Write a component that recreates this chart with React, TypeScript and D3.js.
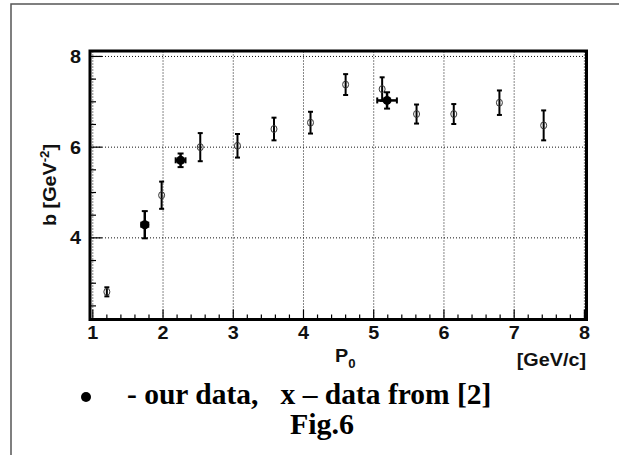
import React from 'react';
import * as d3 from 'd3';

// Slope parameter b versus beam momentum P0
const refMomentum = [1.2, 1.98, 2.53, 3.06, 3.58, 4.1, 4.6, 5.12, 5.61, 6.14, 6.79, 7.42];
const refSlope = [2.81, 4.94, 6.0, 6.03, 6.4, 6.54, 7.38, 7.28, 6.73, 6.73, 6.98, 6.48];
const refSlopeErr = [0.1, 0.3, 0.31, 0.26, 0.25, 0.24, 0.23, 0.26, 0.21, 0.22, 0.27, 0.33];

const ourMomentum = [1.74, 2.25, 5.19];
const ourMomentumErr = [0.05, 0.07, 0.14];
const ourSlope = [4.29, 5.71, 7.03];
const ourSlopeErr = [0.3, 0.15, 0.18];

const xTicks = [1, 2, 3, 4, 5, 6, 7, 8];
const yTicks = [4, 6, 8];

const SANS = '"Liberation Sans", Arial, Helvetica, sans-serif';
const SERIF = '"Liberation Serif", "Times New Roman", serif';
const STRETCH = 1.1;

export default function App() {
  const x = d3.scaleLinear().domain([0.96, 8.03]).range([90, 586.5]);
  const y = d3.scaleLinear().domain([2.2, 8.12]).range([319.5, 51]);
  const [x0, x1] = x.range();
  const [y0, y1] = y.range();

  const xMinor = d3.range(1, 8.001, 0.2).filter((v) => Math.abs(v - Math.round(v)) > 0.01);
  const yMinor = d3.range(2.5, 8.01, 0.5).filter((v) => Math.abs(v - Math.round(v / 2) * 2) > 0.01);

  const refPts = refMomentum.map((p, i) => ({ p, b: refSlope[i], e: refSlopeErr[i] }));
  const ourPts = ourMomentum.map((p, i) => ({
    p,
    pe: ourMomentumErr[i],
    b: ourSlope[i],
    e: ourSlopeErr[i],
  }));

  const grid = { stroke: '#111', strokeWidth: 1, strokeDasharray: '1 2' };

  return (
    <svg
      width={619}
      height={455}
      style={{ position: 'absolute', left: 0, top: 0, background: '#fff' }}
    >
      <rect x={0} y={0} width={619} height={455} fill="#fff" />
      {/* page border */}
      <rect x={11} y={4} width={700} height={600} fill="none" stroke="#555" strokeWidth={1.5} />

      {/* grid */}
      {xTicks.map((t) => (
        <line key={'gx' + t} x1={x(t)} x2={x(t)} y1={y0} y2={y1} {...grid} />
      ))}
      {yTicks.map((t) => (
        <line key={'gy' + t} x1={x0} x2={x1} y1={y(t)} y2={y(t)} {...grid} />
      ))}

      {/* axis ticks */}
      {xTicks.map((t) => (
        <line key={'tx' + t} x1={x(t)} x2={x(t)} y1={y0} y2={y0 - 10} stroke="#000" strokeWidth={1.2} />
      ))}
      {xMinor.map((t) => (
        <line key={'mx' + t} x1={x(t)} x2={x(t)} y1={y0} y2={y0 - 5} stroke="#000" strokeWidth={1.2} />
      ))}
      {yTicks.map((t) => (
        <line key={'ty' + t} x1={x0} x2={x0 + 12} y1={y(t)} y2={y(t)} stroke="#000" strokeWidth={1.2} />
      ))}
      {yMinor.map((t) => (
        <line key={'my' + t} x1={x0} x2={x0 + 6} y1={y(t)} y2={y(t)} stroke="#000" strokeWidth={1.2} />
      ))}

      {/* reference data: open circles */}
      {refPts.map((d, i) => {
        const cx = x(d.p);
        const cy = y(d.b);
        const top = y(d.b + d.e);
        const bot = y(d.b - d.e);
        return (
          <g key={'r' + i} stroke="#000">
            <line x1={cx} x2={cx} y1={top} y2={bot} strokeWidth={2} />
            <line x1={cx - 2.5} x2={cx + 2.5} y1={top} y2={top} strokeWidth={2} />
            <line x1={cx - 2.5} x2={cx + 2.5} y1={bot} y2={bot} strokeWidth={2} />
            <ellipse cx={cx} cy={cy} rx={3} ry={3.5} fill="none" strokeWidth={1} stroke="#333" />
          </g>
        );
      })}

      {/* our data: filled markers */}
      {ourPts.map((d, i) => {
        const cx = x(d.p);
        const cy = y(d.b);
        const top = y(d.b + d.e);
        const bot = y(d.b - d.e);
        const left = x(d.p - d.pe);
        const right = x(d.p + d.pe);
        return (
          <g key={'o' + i} stroke="#000">
            <line x1={cx} x2={cx} y1={top} y2={bot} strokeWidth={2.5} />
            <line x1={cx - 3} x2={cx + 3} y1={top} y2={top} strokeWidth={2} />
            <line x1={cx - 3} x2={cx + 3} y1={bot} y2={bot} strokeWidth={2} />
            <line x1={left} x2={right} y1={cy} y2={cy} strokeWidth={2.5} />
            <line x1={left} x2={left} y1={cy - 3} y2={cy + 3} strokeWidth={2} />
            <line x1={right} x2={right} y1={cy - 3} y2={cy + 3} strokeWidth={2} />
            <circle cx={cx} cy={cy} r={4.5} fill="#000" stroke="none" />
          </g>
        );
      })}

      {/* frame */}
      <rect x={x0} y={y1} width={x1 - x0} height={y0 - y1} fill="none" stroke="#000" strokeWidth={3} />

      {/* tick labels */}
      <g fontFamily={SANS} fontWeight="bold" fontSize={18} fill="#111">
        {xTicks.map((t) => (
          <text key={'lx' + t} transform={`translate(${x(t)},339) scale(${STRETCH},1)`} textAnchor="middle">
            {t}
          </text>
        ))}
        {yTicks.map((t) => (
          <text key={'ly' + t} transform={`translate(81,${y(t) + 6.5}) scale(${STRETCH},1)`} textAnchor="end">
            {t}
          </text>
        ))}

        {/* axis titles */}
        <text transform={`translate(335,362) scale(${STRETCH},1)`} textAnchor="start">
          P<tspan fontSize={12} dy={6}>0</tspan>
        </text>
        <text transform={`translate(586,366) scale(${STRETCH},1)`} textAnchor="end">
          [GeV/c]
        </text>
        <text transform={`translate(56,185) rotate(-90) scale(${STRETCH},1)`} textAnchor="middle">
          b [GeV<tspan fontSize={12} dy={-7}>-2</tspan>
          <tspan dy={7}>]</tspan>
        </text>
      </g>

      {/* legend and caption */}
      <circle cx={86} cy={397} r={5} fill="#000" />
      <text
        x={127}
        y={404}
        fontFamily={SERIF}
        fontWeight="bold"
        fontSize={29.5}
        fill="#000"
        style={{ whiteSpace: 'pre' }}
      >
        {'- our data,   x \u2013 data from [2]'}
      </text>
      <text x={322} y={434} textAnchor="middle" fontFamily={SERIF} fontWeight="bold" fontSize={30} fill="#000">
        Fig.6
      </text>
    </svg>
  );
}
